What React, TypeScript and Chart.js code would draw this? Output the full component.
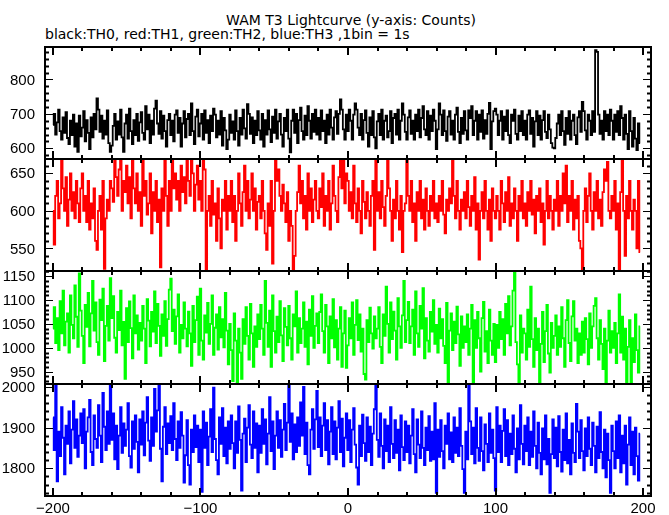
import React, { useEffect, useRef } from "react";
import { Chart, registerables } from "chart.js";

Chart.register(...registerables);

// ---- data -------------------------------------------------------------
const TITLE = "WAM T3 Lightcurve (y-axis: Counts)";
const SUBTITLE = "black:TH0, red:TH1, green:TH2, blue:TH3 ,1bin = 1s";

const TIME_START = -200; // centre of the first 1 s bin
const TIME_BIN = 1;

const X_TICK_LABELS = [-200, -100, 0, 100, 200];

const TH0_Y_LABELS = [600, 700, 800];
const TH1_Y_LABELS = [550, 600, 650];
const TH2_Y_LABELS = [950, 1000, 1050, 1100, 1150];
const TH3_Y_LABELS = [1800, 1900, 2000];

const TH0 = [
  668, 700, 640, 675, 712, 650, 625, 690, 645, 705, 630, 612, 680, 638, 698, 605, 672, 590, 695, 635,
  660, 708, 620, 682, 645, 598, 690, 632, 700, 655, 745, 712, 648, 695, 628, 680, 640, 710, 615, 590,
  608, 665, 700, 625, 678, 640, 712, 632, 590, 672, 698, 628, 715, 650, 612, 682, 638, 700, 622, 675,
  705, 645, 625, 722, 655, 698, 615, 680, 640, 715, 738, 672, 642, 708, 628, 695, 650, 605, 682, 700,
  638, 680, 620, 698, 710, 645, 688, 605, 672, 708, 632, 685, 700, 638, 730, 650, 612, 692, 712, 635,
  672, 700, 625, 710, 645, 682, 615, 695, 650, 715, 698, 632, 680, 640, 708, 608, 688, 652, 598, 625,
  698, 645, 678, 625, 710, 650, 608, 688, 640, 712, 658, 628, 728, 700, 642, 690, 615, 680, 638, 708,
  652, 625, 700, 605, 682, 640, 710, 655, 618, 692, 645, 712, 628, 678, 700, 640, 605, 688, 650, 712,
  628, 588, 680, 712, 645, 700, 615, 682, 718, 650, 625, 695, 638, 722, 680, 628, 700, 648, 712, 640,
  688, 625, 710, 650, 680, 615, 698, 640, 712, 660, 625, 690, 708, 642, 700, 742, 712, 655, 625, 698,
  650, 712, 680, 625, 698, 730, 712, 660, 638, 700, 625, 682, 710, 645, 605, 690, 638, 708, 632, 600,
  678, 700, 638, 712, 625, 680, 695, 632, 650, 708, 615, 688, 700, 640, 712, 625, 680, 730, 698, 648,
  625, 690, 710, 642, 680, 625, 698, 650, 712, 632, 688, 722, 655, 638, 708, 625, 695, 650, 712, 680,
  598, 655, 730, 698, 638, 710, 650, 622, 692, 708, 640, 680, 625, 698, 718, 648, 615, 688, 642, 708,
  652, 625, 710, 688, 722, 638, 680, 708, 625, 698, 648, 710, 628, 682, 642, 700, 732, 598, 678, 708,
  715, 698, 638, 680, 708, 625, 692, 650, 710, 638, 615, 698, 680, 712, 642, 625, 695, 650, 708, 638,
  680, 625, 698, 710, 642, 688, 605, 678, 708, 638, 695, 625, 682, 708, 648, 630, 698, 655, 615, 602,
  600, 630, 672, 698, 638, 708, 650, 610, 688, 642, 708, 625, 680, 698, 638, 612, 690, 708, 648, 735,
  708, 652, 625, 698, 680, 638, 708, 648, 885, 880, 698, 642, 680, 625, 708, 650, 698, 638, 712, 680,
  625, 698, 648, 708, 638, 722, 688, 625, 698, 642, 598, 708, 650, 605, 688, 628, 595, 672, 615,
];

const TH1 = [
  600, 555, 620, 640, 590, 610, 670, 630, 600, 645, 580, 615, 650, 600, 625, 590, 640, 610, 585, 630,
  650, 600, 620, 585, 640, 575, 610, 590, 630, 560, 548, 600, 620, 575, 640, 523, 590, 615, 600, 640,
  630, 612, 670, 645, 620, 655, 670, 600, 640, 625, 660, 610, 645, 590, 670, 630, 610, 650, 600, 625,
  580, 670, 620, 640, 595, 610, 650, 570, 625, 600, 640, 585, 615, 525, 630, 600, 670, 620, 580, 640,
  600, 670, 630, 650, 615, 640, 600, 660, 625, 645, 610, 670, 640, 620, 670, 650, 600, 635, 660, 615,
  640, 600, 670, 655, 522, 600, 620, 580, 640, 595, 610, 560, 630, 590, 550, 615, 600, 640, 575, 620,
  600, 640, 585, 620, 560, 600, 650, 610, 580, 625, 660, 600, 640, 590, 615, 650, 600, 630, 575, 612,
  620, 590, 640, 600, 570, 548, 610, 580, 640, 530, 600, 668, 640, 655, 620, 600, 635, 610, 585, 625,
  560, 600, 580, 520, 540, 600, 625, 660, 610, 640, 590, 620, 575, 650, 600, 630, 585, 615, 640, 600,
  590, 630, 605, 650, 580, 620, 600, 640, 575, 610, 660, 620, 600, 585, 645, 670, 630, 668, 610, 650,
  640, 600, 625, 590, 660, 610, 585, 630, 600, 570, 640, 612, 590, 625, 600, 580, 620, 640, 548, 670,
  600, 625, 590, 640, 605, 580, 620, 670, 630, 600, 560, 615, 590, 640, 600, 575, 620, 545, 600, 610,
  670, 620, 600, 640, 585, 610, 560, 625, 600, 640, 590, 615, 575, 630, 600, 580, 620, 600, 640, 590,
  610, 585, 620, 600, 640, 595, 570, 615, 600, 630, 610, 670, 620, 590, 640, 600, 575, 615, 600, 625,
  590, 640, 605, 580, 620, 600, 645, 575, 610, 535, 600, 625, 590, 640, 600, 575, 615, 560, 630, 600,
  590, 620, 600, 575, 640, 610, 585, 625, 600, 645, 580, 610, 590, 630, 600, 560, 620, 600, 640, 590,
  610, 580, 625, 600, 640, 595, 615, 570, 620, 600, 630, 585, 610, 555, 600, 640, 590, 620, 600, 575,
  615, 600, 640, 580, 620, 600, 650, 610, 660, 585, 620, 600, 640, 575, 615, 590, 620, 560, 550, 520,
  600, 630, 585, 620, 650, 600, 575, 625, 600, 640, 590, 615, 580, 625, 655, 640, 665, 600, 590, 620,
  600, 640, 575, 610, 520, 625, 668, 600, 540, 620, 590, 640, 600, 575, 615, 600, 550, 640, 545,
];

const TH2 = [
  1040, 1085, 1010, 1062, 995, 1098, 1030, 1120, 1005, 1055, 1072, 990, 1110, 1048, 1020, 1131, 1065, 1002, 1156, 1078,
  1025, 968, 1090, 1044, 1115, 1003, 1072, 1140, 1036, 1095, 1012, 985, 1101, 1058, 1124, 972, 1046, 1088, 1015, 1146,
  1062, 1108, 1021, 990, 1075, 1037, 1120, 1005, 1054, 935, 1083, 1012, 1097, 1041, 978, 1110, 1030, 1068, 996, 1052,
  1015, 1088, 1040, 968, 1102, 1057, 1003, 1075, 1034, 1118, 1010, 1092, 1046, 983, 1070, 1025, 1098, 1004, 1060, 1122,
  1145, 1035, 1080, 1008, 1066, 1112, 990, 1048, 1020, 1095, 1040, 1003, 1076, 1030, 962, 1088, 1012, 1058, 1107, 985,
  1124, 1015, 975, 1068, 1032, 1094, 1008, 1050, 1110, 985, 1042, 1070, 996, 1085, 1022, 1060, 1001, 1115, 1036, 965,
  1050, 995, 930, 1072, 1015, 928, 1040, 990, 935, 1060, 1008, 1085, 1025, 975, 1092, 1030, 960, 1045, 1002, 1070,
  1018, 1090, 1040, 985, 1140, 1052, 1002, 1078, 960, 1110, 1035, 990, 1065, 1012, 1098, 1026, 972, 1083, 1044, 1005,
  1088, 1020, 975, 1070, 1045, 1118, 990, 1062, 1010, 1040, 1095, 1002, 1055, 965, 1080, 1025, 1108, 1000, 1046, 1072,
  1010, 1075, 1112, 1035, 990, 1090, 1045, 968, 1066, 1020, 1102, 1001, 1058, 975, 1040, 1085, 960, 1030, 1078, 958,
  1005, 1062, 1020, 1095, 985, 1048, 1100, 1016, 1070, 992, 1040, 945, 933, 1058, 1012, 1084, 1030, 998, 1066, 1020,
  1040, 1085, 1002, 968, 1070, 1025, 1128, 1050, 990, 1095, 1018, 1076, 1036, 975, 1104, 1045, 1000, 1068, 1140, 1012,
  1058, 1096, 1010, 1045, 1080, 985, 1118, 1030, 1002, 1088, 1040, 1125, 978, 1062, 1015, 992, 1075, 1034, 1100, 1008,
  1048, 990, 1082, 1020, 1060, 1004, 968, 1094, 925, 1036, 1072, 995, 1055, 1010, 1086, 1028, 962, 1066, 1000, 1045,
  1012, 1070, 985, 1040, 1090, 925, 1058, 1000, 1075, 1020, 950, 1062, 1096, 992, 1035, 968, 1080, 1015, 985, 1050,
  970, 1048, 1000, 1075, 1018, 1060, 985, 1092, 1030, 1108, 1005, 1045, 1120, 1160, 1012, 965, 925, 1068, 990, 1040,
  1030, 975, 1080, 1002, 1128, 1018, 960, 1062, 995, 1040, 925, 1008, 1075, 970, 1035, 1090, 988, 948, 1052, 1000,
  1025, 1068, 985, 1045, 1002, 1085, 1020, 960, 1058, 1100, 1010, 972, 1066, 1098, 1015, 1040, 968, 1030, 985, 1055,
  990, 1062, 1018, 965, 1072, 1000, 1045, 1088, 1104, 1020, 975, 1058, 1008, 955, 1040, 925, 1015, 1078, 990, 1035,
  1000, 1052, 968, 1030, 1112, 990, 1065, 975, 1040, 925, 1002, 1058, 925, 1020, 970, 1070, 995, 948, 1045,
];

const TH3 = [
  1925, 1845, 2005, 1768, 1890, 1830, 1950, 1875, 1785, 1905, 1860, 1940, 1812, 1895, 1965, 1850, 1920, 1828, 1880, 1935,
  1862, 1945, 1800, 1890, 1925, 1968, 1840, 1808, 1930, 1872, 1850, 1955, 1880, 1815, 1985, 1902, 1845, 1940, 1860, 2005,
  1870, 1935, 1822, 1905, 1798, 1880, 1950, 1838, 1910, 1855, 1895, 1960, 1830, 1802, 1915, 1848, 1930, 1865, 1790, 1920,
  1858, 1940, 1832, 1912, 1975, 1868, 1818, 1925, 1855, 1995, 1890, 1942, 2005, 1848, 1768, 1902, 1950, 1835, 1910, 1862,
  1928, 1845, 1960, 1872, 1820, 1915, 1850, 1938, 1880, 1765, 1832, 1918, 1808, 1760, 1895, 1840, 1930, 1852, 1905, 1815,
  1895, 1742, 1940, 1850, 1912, 1808, 1878, 1945, 1840, 1998, 1872, 1820, 1785, 1925, 1860, 1948, 1830, 1900, 1812, 1915,
  1848, 1930, 1862, 1800, 1915, 1838, 1952, 1870, 1745, 1885, 1922, 1815, 1900, 1955, 1858, 1825, 1940, 1850, 1910, 1790,
  1905, 1838, 1945, 1860, 1920, 1810, 1885, 1975, 1842, 1915, 1798, 1880, 1940, 1850, 1918, 1828, 1895, 1958, 1845, 1912,
  2005, 1865, 1935, 1822, 1908, 1840, 1925, 1855, 1962, 1880, 2000, 1835, 1912, 1808, 1785, 1895, 1945, 1848, 1920, 1990,
  1852, 1925, 1830, 1905, 1960, 1845, 1918, 1810, 1890, 1950, 1835, 1915, 1822, 1900, 1965, 1840, 1922, 1805, 1875, 1935,
  1845, 1918, 1815, 1895, 1948, 1858, 1802, 1760, 1905, 1830, 1932, 1862, 1818, 1925, 1840, 1902, 1808, 1885, 1945, 2005,
  1870, 1828, 1935, 1855, 1800, 1920, 1842, 1905, 1815, 1950, 1860, 1825, 1918, 1838, 1895, 1795, 1930, 1852, 1820, 1915,
  1840, 1905, 1812, 1880, 1945, 1835, 1790, 1920, 1858, 1825, 1940, 1850, 1808, 1900, 1845, 1928, 1818, 1890, 1822, 1960,
  1740, 1895, 1828, 1918, 1842, 1800, 1905, 1860, 1935, 1822, 1888, 1815, 1925, 1838, 1900, 1830, 1948, 1855, 1798, 1740,
  1890, 1822, 2005, 1915, 1835, 1900, 1812, 1948, 1850, 1818, 1925, 1842, 1795, 1908, 1860, 1815, 1935, 1838, 1895, 1825,
  1745, 1950, 1840, 1905, 1815, 1892, 1945, 1830, 1918, 1808, 1885, 1835, 1930, 1848, 1790, 1898, 1822, 1955, 1860, 1810,
  1905, 1842, 1925, 1808, 1890, 1828, 1940, 1855, 1800, 1912, 1838, 1785, 1898, 1822, 1930, 1810, 1872, 1740, 1835, 1920,
  1825, 1900, 1805, 1928, 1840, 1792, 1895, 1820, 1935, 1812, 1870, 1785, 1910, 1838, 1815, 1958, 1890, 1825, 1918, 1842,
  1795, 1898, 1830, 1925, 1848, 1808, 1912, 1855, 1790, 1902, 1825, 1938, 1840, 1800, 1895, 1778, 1885, 1820, 1740, 1905,
  1842, 1800, 1915, 1825, 1930, 1790, 1880, 1812, 1905, 1760, 1858, 1925, 1808, 1890, 1785, 1900, 1830, 1770, 1885,
];

// ---- layout / style ---------------------------------------------------
const W = 669;
const H = 515;
const PLOT_LEFT = 45;
const PLOT_RIGHT = 651;
const BOUNDS = [47, 159, 271, 384, 496];
const PAD = 12;
const X_MIN = -205.4;
const X_MAX = 205.4;
const TICK_FONT = "15px 'Liberation Sans', Arial, sans-serif";

type Panel = {
  values: number[];
  color: string;
  min: number;
  max: number;
  labels: number[];
  major: number;
  minor: number;
};

const PANELS: Panel[] = [
  { values: TH0, color: "#000000", min: 569, max: 894, labels: TH0_Y_LABELS, major: 100, minor: 20 },
  { values: TH1, color: "#ff0000", min: 520, max: 669, labels: TH1_Y_LABELS, major: 50, minor: 10 },
  { values: TH2, color: "#00ff00", min: 924, max: 1161, labels: TH2_Y_LABELS, major: 50, minor: 10 },
  { values: TH3, color: "#0000ff", min: 1732, max: 2007, labels: TH3_Y_LABELS, major: 100, minor: 20 },
];

const minus = (v: number) => (v < 0 ? "\u2212" + Math.abs(v) : String(v));

const framePlugin = {
  id: "frameTicks",
  afterDatasetsDraw(chart: any, _args: any, opts: any) {
    const { ctx, chartArea: a } = chart;
    const xs = chart.scales.x;
    const ys = chart.scales.y;
    const p: Panel = opts.panel;
    const showX: boolean = opts.showX;
    ctx.save();
    ctx.strokeStyle = "#000";
    ctx.fillStyle = "#000";
    const seg = (x1: number, y1: number, x2: number, y2: number) => {
      ctx.beginPath();
      ctx.moveTo(x1, y1);
      ctx.lineTo(x2, y2);
      ctx.stroke();
    };
    // x ticks (top & bottom of each panel, pointing inwards)
    for (let v = -200; v <= 200; v += 20) {
      const px = Math.round(xs.getPixelForValue(v));
      const major = v % 100 === 0;
      ctx.lineWidth = 2;
      const len = major ? 8 : 4;
      seg(px, a.top, px, a.top + len);
      seg(px, a.bottom, px, a.bottom - len);
    }
    // y ticks (left & right)
    const start = Math.ceil(p.min / p.minor) * p.minor;
    for (let v = start; v <= p.max; v += p.minor) {
      const py = Math.round(ys.getPixelForValue(v)) + 0.5;
      const major = v % p.major === 0;
      ctx.lineWidth = major ? 1 : 2;
      const len = major ? 8 : 4;
      seg(a.left, py, a.left + len, py);
      seg(a.right, py, a.right - len, py);
    }
    // frame
    ctx.lineWidth = 2;
    ctx.strokeRect(a.left, a.top, a.right - a.left, a.bottom - a.top);

    // tick labels
    ctx.font = TICK_FONT;
    ctx.textAlign = "right";
    ctx.textBaseline = "middle";
    p.labels.forEach((v) => {
      ctx.fillText(String(v), a.left - 10, ys.getPixelForValue(v) + 1);
    });
    if (showX) {
      ctx.textAlign = "center";
      ctx.textBaseline = "alphabetic";
      X_TICK_LABELS.forEach((v) => {
        ctx.fillText(minus(v), xs.getPixelForValue(v), a.bottom + 17);
      });
    }
    ctx.restore();
  },
};

export default function App() {
  const refs = useRef<(HTMLCanvasElement | null)[]>([]);

  const geom = PANELS.map((_, i) => {
    const last = i === PANELS.length - 1;
    const top = BOUNDS[i] - PAD;
    const height = last ? H - top : BOUNDS[i + 1] - BOUNDS[i] + 2 * PAD;
    const bottomPad = last ? H - BOUNDS[i + 1] : PAD;
    return { top, height, last, bottomPad };
  });

  useEffect(() => {
    const charts: Chart[] = [];
    PANELS.forEach((p, i) => {
      const canvas = refs.current[i];
      if (!canvas) return;
      const g = geom[i];
      const data = p.values.map((v, k) => ({ x: TIME_START + k * TIME_BIN, y: v }));
      const chart = new Chart(canvas, {
        type: "line",
        data: {
          datasets: [
            {
              data,
              borderColor: p.color,
              borderWidth: 1.8,
              pointRadius: 0,
              stepped: "middle",
              fill: false,
            },
          ],
        },
        options: {
          animation: false,
          responsive: false,
          devicePixelRatio: 1,
          events: [],
          layout: {
            padding: { left: PLOT_LEFT, right: W - PLOT_RIGHT, top: PAD, bottom: g.bottomPad },
          },
          plugins: {
            legend: { display: false },
            tooltip: { enabled: false },
            title: { display: false },
            frameTicks: { panel: p, showX: g.last },
          } as any,
          scales: {
            x: { type: "linear", min: X_MIN, max: X_MAX, display: false },
            y: { type: "linear", min: p.min, max: p.max, display: false },
          },
        },
        plugins: [framePlugin],
      } as any);
      charts.push(chart);
    });
    return () => charts.forEach((c) => c.destroy());
  }, []);

  const textStyle: React.CSSProperties = {
    position: "absolute",
    fontFamily: "'DejaVu Sans', sans-serif",
    fontSize: 14,
    lineHeight: "14px",
    color: "#000",
    whiteSpace: "nowrap",
  };

  return (
    <div style={{ position: "fixed", left: 0, top: 0, width: W, height: H, background: "#fff", overflow: "hidden" }}>
      <div style={{ ...textStyle, top: 13, left: 0, width: 2 * 351, textAlign: "center" }}>{TITLE}</div>
      <div style={{ ...textStyle, top: 27, left: PLOT_LEFT }}>{SUBTITLE}</div>
      {PANELS.map((_, i) => (
        <canvas
          key={i}
          ref={(el) => {
            refs.current[i] = el;
          }}
          width={W}
          height={geom[i].height}
          style={{ position: "absolute", left: 0, top: geom[i].top, width: W, height: geom[i].height }}
        />
      ))}
    </div>
  );
}
